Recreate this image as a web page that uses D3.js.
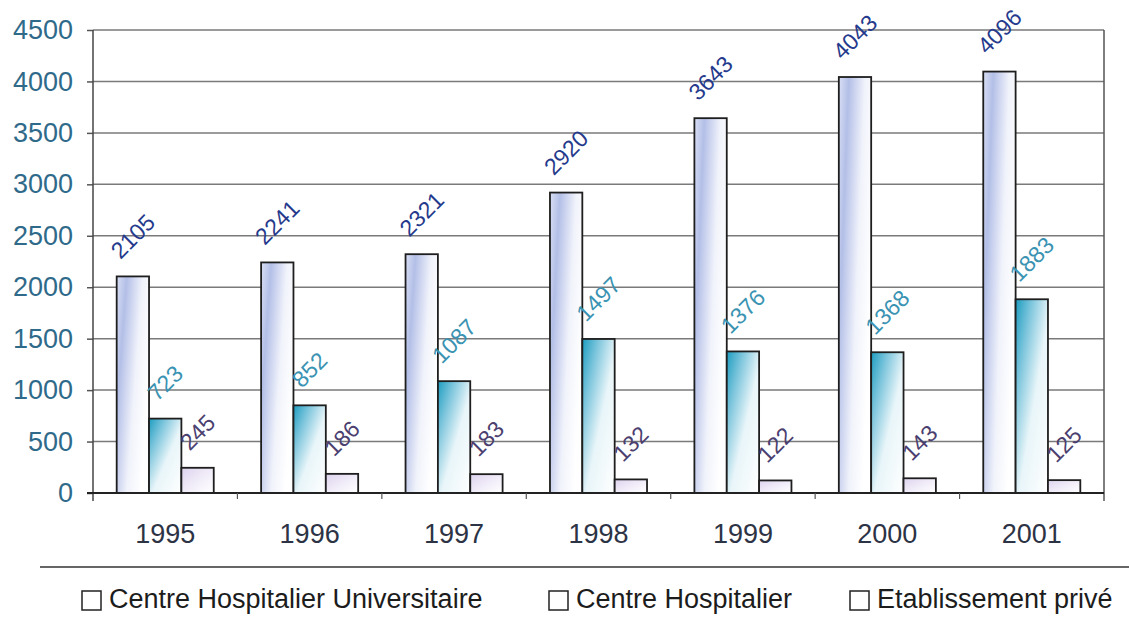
<!DOCTYPE html>
<html lang="fr">
<head>
  <meta charset="UTF-8">
  <title>Centres hospitaliers 1995-2001</title>
  <script src="https://cdn.jsdelivr.net/npm/d3@7/dist/d3.min.js"></script>
  <style>
    body { margin: 0; background: #fff; }
    text { font-family: "Liberation Sans", Arial, sans-serif; }
  </style>
</head>
<body>
  <div id="chart"></div>

  <script>
    // Data
    var years = ["1995", "1996", "1997", "1998", "1999", "2000", "2001"];
    var seriesNames = ["Centre Hospitalier Universitaire", "Centre Hospitalier", "Etablissement privé"];
    var chu = [2105, 2241, 2321, 2920, 3643, 4043, 4096];
    var ch = [723, 852, 1087, 1497, 1376, 1368, 1883];
    var prive = [245, 186, 183, 132, 122, 143, 125];
    var yTicks = [0, 500, 1000, 1500, 2000, 2500, 3000, 3500, 4000, 4500];

    var series = [chu, ch, prive];

    var W = 1129, H = 627;
    var margin = { top: 30, right: 25, bottom: 134, left: 93 };
    var width = W - margin.left - margin.right,
        height = H - margin.top - margin.bottom;

    var svg = d3.select("#chart").append("svg")
      .attr("width", W)
      .attr("height", H);

    // Gradients for the bars
    var defs = svg.append("defs");
    var gradChu = defs.append("linearGradient").attr("id", "g0")
      .attr("x1", 0).attr("y1", 0).attr("x2", 1).attr("y2", 0.5);
    gradChu.append("stop").attr("offset", "0%").attr("stop-color", "#d9dff4");
    gradChu.append("stop").attr("offset", "25%").attr("stop-color", "#b3bfe7");
    gradChu.append("stop").attr("offset", "65%").attr("stop-color", "#f1f3fb");
    gradChu.append("stop").attr("offset", "100%").attr("stop-color", "#ffffff");

    var gradCh = defs.append("linearGradient").attr("id", "g1")
      .attr("x1", 0).attr("y1", 0).attr("x2", 1).attr("y2", 1);
    gradCh.append("stop").attr("offset", "0%").attr("stop-color", "#1d9dc0");
    gradCh.append("stop").attr("offset", "25%").attr("stop-color", "#7cc5dc");
    gradCh.append("stop").attr("offset", "55%").attr("stop-color", "#e8f5f9");
    gradCh.append("stop").attr("offset", "100%").attr("stop-color", "#ffffff");

    var gradPr = defs.append("linearGradient").attr("id", "g2")
      .attr("x1", 0).attr("y1", 0).attr("x2", 1).attr("y2", 1);
    gradPr.append("stop").attr("offset", "0%").attr("stop-color", "#ddd3ee");
    gradPr.append("stop").attr("offset", "60%").attr("stop-color", "#f4f0fa");
    gradPr.append("stop").attr("offset", "100%").attr("stop-color", "#ffffff");

    var labelColors = ["#253a8c", "#3a93b2", "#4b4070"];

    var g = svg.append("g")
      .attr("transform", "translate(" + margin.left + "," + margin.top + ")");

    var x = d3.scaleBand().domain(years).range([0, width]).padding(0);
    var y = d3.scaleLinear().domain([0, 4500]).range([height, 0]);

    var bw = x.bandwidth() * 0.224;
    var groupOff = (x.bandwidth() - 3 * bw) / 2;

    // Gridlines
    g.append("g").selectAll("line")
      .data(yTicks.filter(function (d) { return d > 0; }))
      .enter().append("line")
      .attr("x1", 0).attr("x2", width)
      .attr("y1", function (d) { return y(d); })
      .attr("y2", function (d) { return y(d); })
      .attr("stroke", "#7a7a7a")
      .attr("stroke-width", 1.5);

    // Right border
    g.append("line")
      .attr("x1", width).attr("x2", width)
      .attr("y1", 0).attr("y2", height + 8)
      .attr("stroke", "#555").attr("stroke-width", 1.5);

    // Bars
    series.forEach(function (vals, s) {
      g.append("g").selectAll("rect")
        .data(vals)
        .enter().append("rect")
        .attr("x", function (d, i) { return x(years[i]) + groupOff + s * bw; })
        .attr("y", function (d) { return y(d); })
        .attr("width", bw)
        .attr("height", function (d) { return height - y(d); })
        .attr("fill", "url(#g" + s + ")")
        .attr("stroke", "#1e1e1e")
        .attr("stroke-width", 1.8);
    });

    // Y axis
    var yAxis = g.append("g")
      .call(d3.axisLeft(y).tickValues(yTicks).tickFormat(d3.format("d")).tickSize(6).tickPadding(14));
    yAxis.select(".domain").remove();
    yAxis.selectAll(".tick line").attr("stroke", "#555").attr("stroke-width", 1.5);
    yAxis.selectAll(".tick text")
      .attr("fill", "#2f6a8a")
      .style("font-size", "27px");
    g.append("line")
      .attr("x1", 0).attr("x2", 0)
      .attr("y1", 0).attr("y2", height + 8)
      .attr("stroke", "#444").attr("stroke-width", 1.5);

    // X axis
    g.append("line")
      .attr("x1", -6).attr("x2", width)
      .attr("y1", height).attr("y2", height)
      .attr("stroke", "#222").attr("stroke-width", 1.8);
    g.append("g").selectAll("line")
      .data(years.slice(1))
      .enter().append("line")
      .attr("x1", function (d) { return x(d); })
      .attr("x2", function (d) { return x(d); })
      .attr("y1", height).attr("y2", height + 6)
      .attr("stroke", "#555").attr("stroke-width", 1.2);
    g.append("g").selectAll("text")
      .data(years)
      .enter().append("text")
      .attr("x", function (d) { return x(d) + x.bandwidth() / 2; })
      .attr("y", height + 50)
      .attr("text-anchor", "middle")
      .attr("fill", "#2c3345")
      .style("font-size", "27px")
      .text(function (d) { return d; });

    // Rotated value labels
    series.forEach(function (vals, s) {
      g.append("g").selectAll("text")
        .data(vals)
        .enter().append("text")
        .attr("text-anchor", "middle")
        .attr("dominant-baseline", "central")
        .attr("fill", labelColors[s])
        .style("font-size", "23px")
        .text(function (d) { return d; })
        .each(function (d, i) {
          var w = this.getComputedTextLength();
          var cx = x(years[i]) + groupOff + s * bw + bw / 2;
          var cy = y(d) - (22 + w * 0.707 / 2);
          d3.select(this).attr("transform", "translate(" + cx + "," + cy + ") rotate(-45)");
        });
    });

    // Legend
    svg.append("line")
      .attr("x1", 40).attr("x2", W)
      .attr("y1", 567).attr("y2", 567)
      .attr("stroke", "#666").attr("stroke-width", 2);

    var legendX = [82, 549, 850];
    var lg = svg.append("g").selectAll("g")
      .data(seriesNames)
      .enter().append("g")
      .attr("transform", function (d, i) { return "translate(" + legendX[i] + ",591)"; });
    lg.append("rect")
      .attr("width", 19).attr("height", 19)
      .attr("fill", "#fff")
      .attr("stroke", "#222").attr("stroke-width", 1.5);
    lg.append("text")
      .attr("x", 27).attr("y", 17)
      .attr("fill", "#1c1c1c")
      .style("font-size", "27px")
      .text(function (d) { return d; });
  </script>
</body>
</html>
